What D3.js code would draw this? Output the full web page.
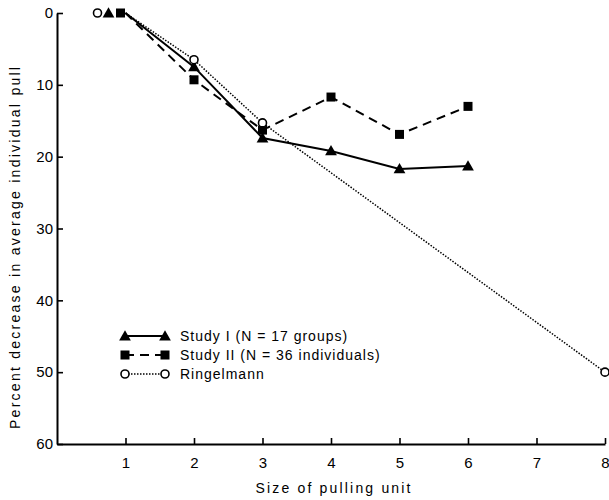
<!DOCTYPE html>
<html>
<head>
<meta charset="utf-8">
<script src="https://cdn.jsdelivr.net/npm/d3@7"></script>
<style>
  html, body { margin: 0; padding: 0; background: #fff; }
  svg { display: block; }
  text { font-family: "Liberation Sans", "DejaVu Sans", sans-serif; fill: #000; }
</style>
</head>
<body>
<svg id="chart" width="609" height="500"></svg>
<script>
// ---- data ----
const studyX = [1, 2, 3, 4, 5, 6];
const study1 = [0, 7.5, 17.4, 19.2, 21.7, 21.3];
const study2 = [0, 9.3, 16.3, 11.7, 16.9, 13.0];
const ringX = [1, 2, 3, 8];
const ringelmann = [0, 6.5, 15.3, 50];
const xTicks = [1, 2, 3, 4, 5, 6, 7, 8];
const yTicks = [0, 10, 20, 30, 40, 50, 60];
const legendLabels = ["Study I (N = 17 groups)", "Study II (N = 36 individuals)", "Ringelmann"];
const xTitle = "Size of pulling unit";
const yTitle = "Percent decrease in average individual pull";

// ---- layout ----
const svg = d3.select("#chart");
const x = d3.scaleLinear().domain([0, 8]).range([57, 605]);
const y = d3.scaleLinear().domain([0, 60]).range([13, 444]);

// axes
const xAxis = svg.append("g").attr("transform", `translate(0,${y(60)})`)
  .call(d3.axisBottom(x).tickValues(xTicks).tickSizeInner(-6).tickSizeOuter(0).tickPadding(13));
const yAxis = svg.append("g").attr("transform", `translate(${x(0)},0)`)
  .call(d3.axisLeft(y).tickValues(yTicks).tickSizeInner(-6).tickSizeOuter(0).tickPadding(4));
[xAxis, yAxis].forEach(g => {
  g.select(".domain").attr("stroke", "#000").attr("stroke-width", 2);
  g.selectAll(".tick line").attr("stroke", "#000").attr("stroke-width", 1.6);
  g.selectAll(".tick text").attr("font-size", 15).attr("font-family", "Liberation Sans, sans-serif").attr("fill", "#000");
});

// titles
svg.append("text")
  .attr("x", 333).attr("y", 493)
  .attr("text-anchor", "middle").attr("font-size", 14)
  .attr("textLength", 155).attr("lengthAdjust", "spacing")
  .text(xTitle);
svg.append("text")
  .attr("transform", `translate(20,248) rotate(-90)`)
  .attr("text-anchor", "middle").attr("font-size", 14)
  .attr("textLength", 362).attr("lengthAdjust", "spacing")
  .text(yTitle);

// series
const series = [
  { xs: studyX, ys: study1, dash: null, width: 2, marker: "tri", dodge: -17 },
  { xs: studyX, ys: study2, dash: "9,6", width: 2, marker: "sq", dodge: -5 },
  { xs: ringX, ys: ringelmann, dash: "1.5,1.5", width: 1.5, marker: "circ", dodge: -28 }
];

const line = d3.line().x(d => x(d[0])).y(d => y(d[1]));

function drawMarker(g, type, cx, cy) {
  if (type === "tri") {
    g.append("path").attr("d", d3.symbol(d3.symbolTriangle, 60)())
      .attr("transform", `translate(${cx},${cy + 1})`).attr("fill", "#000");
  } else if (type === "sq") {
    g.append("rect").attr("x", cx - 4.5).attr("y", cy - 4.5).attr("width", 9).attr("height", 9).attr("fill", "#000");
  } else {
    g.append("circle").attr("cx", cx).attr("cy", cy).attr("r", 4)
      .attr("fill", "#fff").attr("stroke", "#000").attr("stroke-width", 1.6);
  }
}

series.forEach(s => {
  const pts = s.xs.map((xv, i) => [xv, s.ys[i]]);
  svg.append("path").datum(pts).attr("d", line)
    .attr("fill", "none").attr("stroke", "#000").attr("stroke-width", s.width)
    .attr("stroke-dasharray", s.dash);
});
series.forEach(s => {
  const g = svg.append("g");
  s.xs.forEach((xv, i) => {
    const dx = i === 0 ? s.dodge : 0;
    drawMarker(g, s.marker, x(xv) + dx, y(s.ys[i]));
  });
});

// legend
const legendY = [336, 355, 374];
series.forEach((s, i) => {
  const g = svg.append("g");
  const ly = legendY[i];
  g.append("line").attr("x1", 125).attr("x2", 165).attr("y1", ly).attr("y2", ly)
    .attr("stroke", "#000").attr("stroke-width", s.width).attr("stroke-dasharray", s.dash);
  drawMarker(g, s.marker, 125, ly);
  drawMarker(g, s.marker, 165, ly);
  g.append("text").attr("x", 180).attr("y", ly + 5).attr("font-size", 14)
    .attr("letter-spacing", 1).text(legendLabels[i]);
});
</script>
</body>
</html>
